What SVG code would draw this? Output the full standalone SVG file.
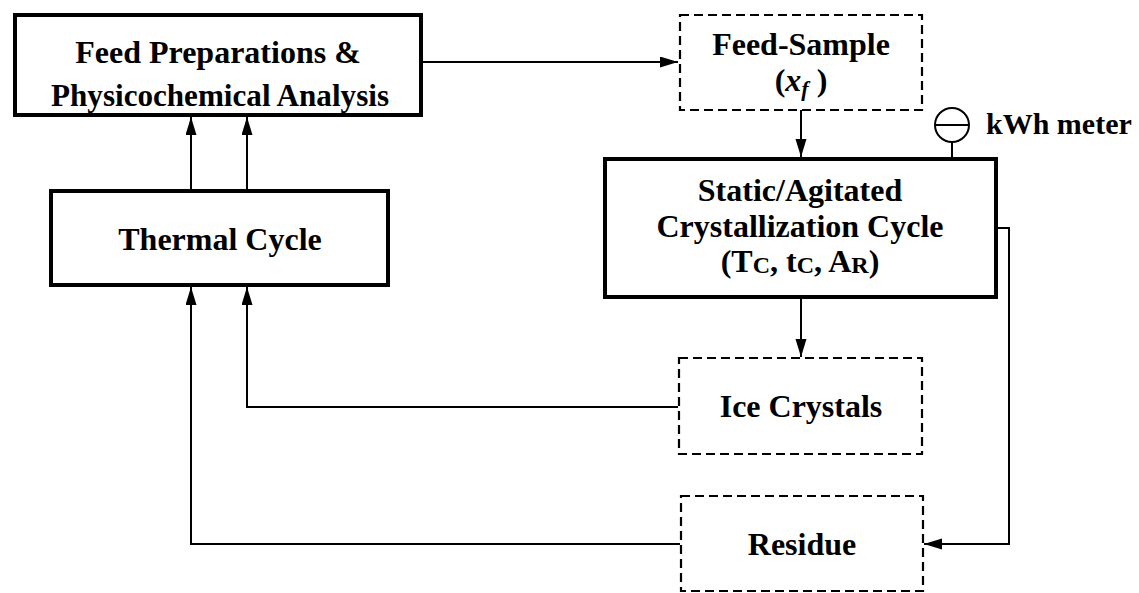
<svg xmlns="http://www.w3.org/2000/svg" width="1139" height="593" viewBox="0 0 1139 593">
<style>
.solid{fill:#fff;stroke:#000;stroke-width:4}
.dash{fill:#fff;stroke:#000;stroke-width:2.2;stroke-dasharray:9,5}
.t{font-family:"Liberation Serif","Times New Roman",serif;font-weight:bold;font-size:32px;fill:#000;text-anchor:middle}
.c{fill:none;stroke:#000;stroke-width:2}
</style>
<defs>
<marker id="ah" markerUnits="userSpaceOnUse" markerWidth="19" markerHeight="12" refX="18" refY="5.5" orient="auto">
<path d="M0,0 L18,5.5 L0,11 z" fill="#000"/>
</marker>
</defs>
<g id="connectors">
<path class="c" d="M423,62 H678" marker-end="url(#ah)"/>
<path class="c" d="M801,110 V157" marker-end="url(#ah)"/>
<path class="c" d="M801,299 V357" marker-end="url(#ah)"/>
<path class="c" d="M998,228 H1009 V544 H924" marker-end="url(#ah)"/>
<path class="c" d="M191,189 V117" marker-end="url(#ah)"/>
<path class="c" d="M247,189 V117" marker-end="url(#ah)"/>
<path class="c" d="M678,407 H247 V287" marker-end="url(#ah)"/>
<path class="c" d="M680,544 H191 V287" marker-end="url(#ah)"/>
</g>
<g id="feed-prep">
<rect class="solid" x="15" y="15" width="406" height="100"/>
<text class="t" x="218" y="63">Feed Preparations &amp;</text>
<text class="t" x="220" y="106" textLength="338" lengthAdjust="spacingAndGlyphs">Physicochemical Analysis</text>
</g>
<g id="feed-sample">
<rect class="dash" x="680" y="15" width="242" height="95"/>
<text class="t" x="801" y="55">Feed-Sample</text>
<text class="t" x="801" y="91">(<tspan font-style="italic">x</tspan><tspan font-style="italic" font-size="22" dy="5">f</tspan><tspan dy="-5"> )</tspan></text>
</g>
<g id="kwh-meter">
<circle cx="952" cy="125" r="17" fill="#fff" stroke="#000" stroke-width="2"/>
<line x1="935" y1="125" x2="969" y2="125" stroke="#000" stroke-width="2"/>
<line x1="952" y1="142" x2="952" y2="157" stroke="#000" stroke-width="2"/>
<text class="t" x="986" y="134" style="text-anchor:start;font-size:30px">kWh meter</text>
</g>
<g id="crystallization">
<rect class="solid" x="605" y="159" width="391" height="138"/>
<text class="t" x="800" y="201">Static/Agitated</text>
<text class="t" x="800" y="237">Crystallization Cycle</text>
<text class="t" x="800" y="272">(T<tspan font-size="24" dy="1">C</tspan><tspan dy="-1">, t</tspan><tspan font-size="24" dy="1">C</tspan><tspan dy="-1">, A</tspan><tspan font-size="24" dy="1">R</tspan><tspan dy="-1">)</tspan></text>
</g>
<g id="thermal">
<rect class="solid" x="51" y="191" width="337" height="94"/>
<text class="t" x="220" y="250">Thermal Cycle</text>
</g>
<g id="ice">
<rect class="dash" x="679" y="358" width="243" height="96"/>
<text class="t" x="801" y="417">Ice Crystals</text>
</g>
<g id="residue">
<rect class="dash" x="681" y="496" width="242" height="95"/>
<text class="t" x="802" y="555">Residue</text>
</g>
</svg>
